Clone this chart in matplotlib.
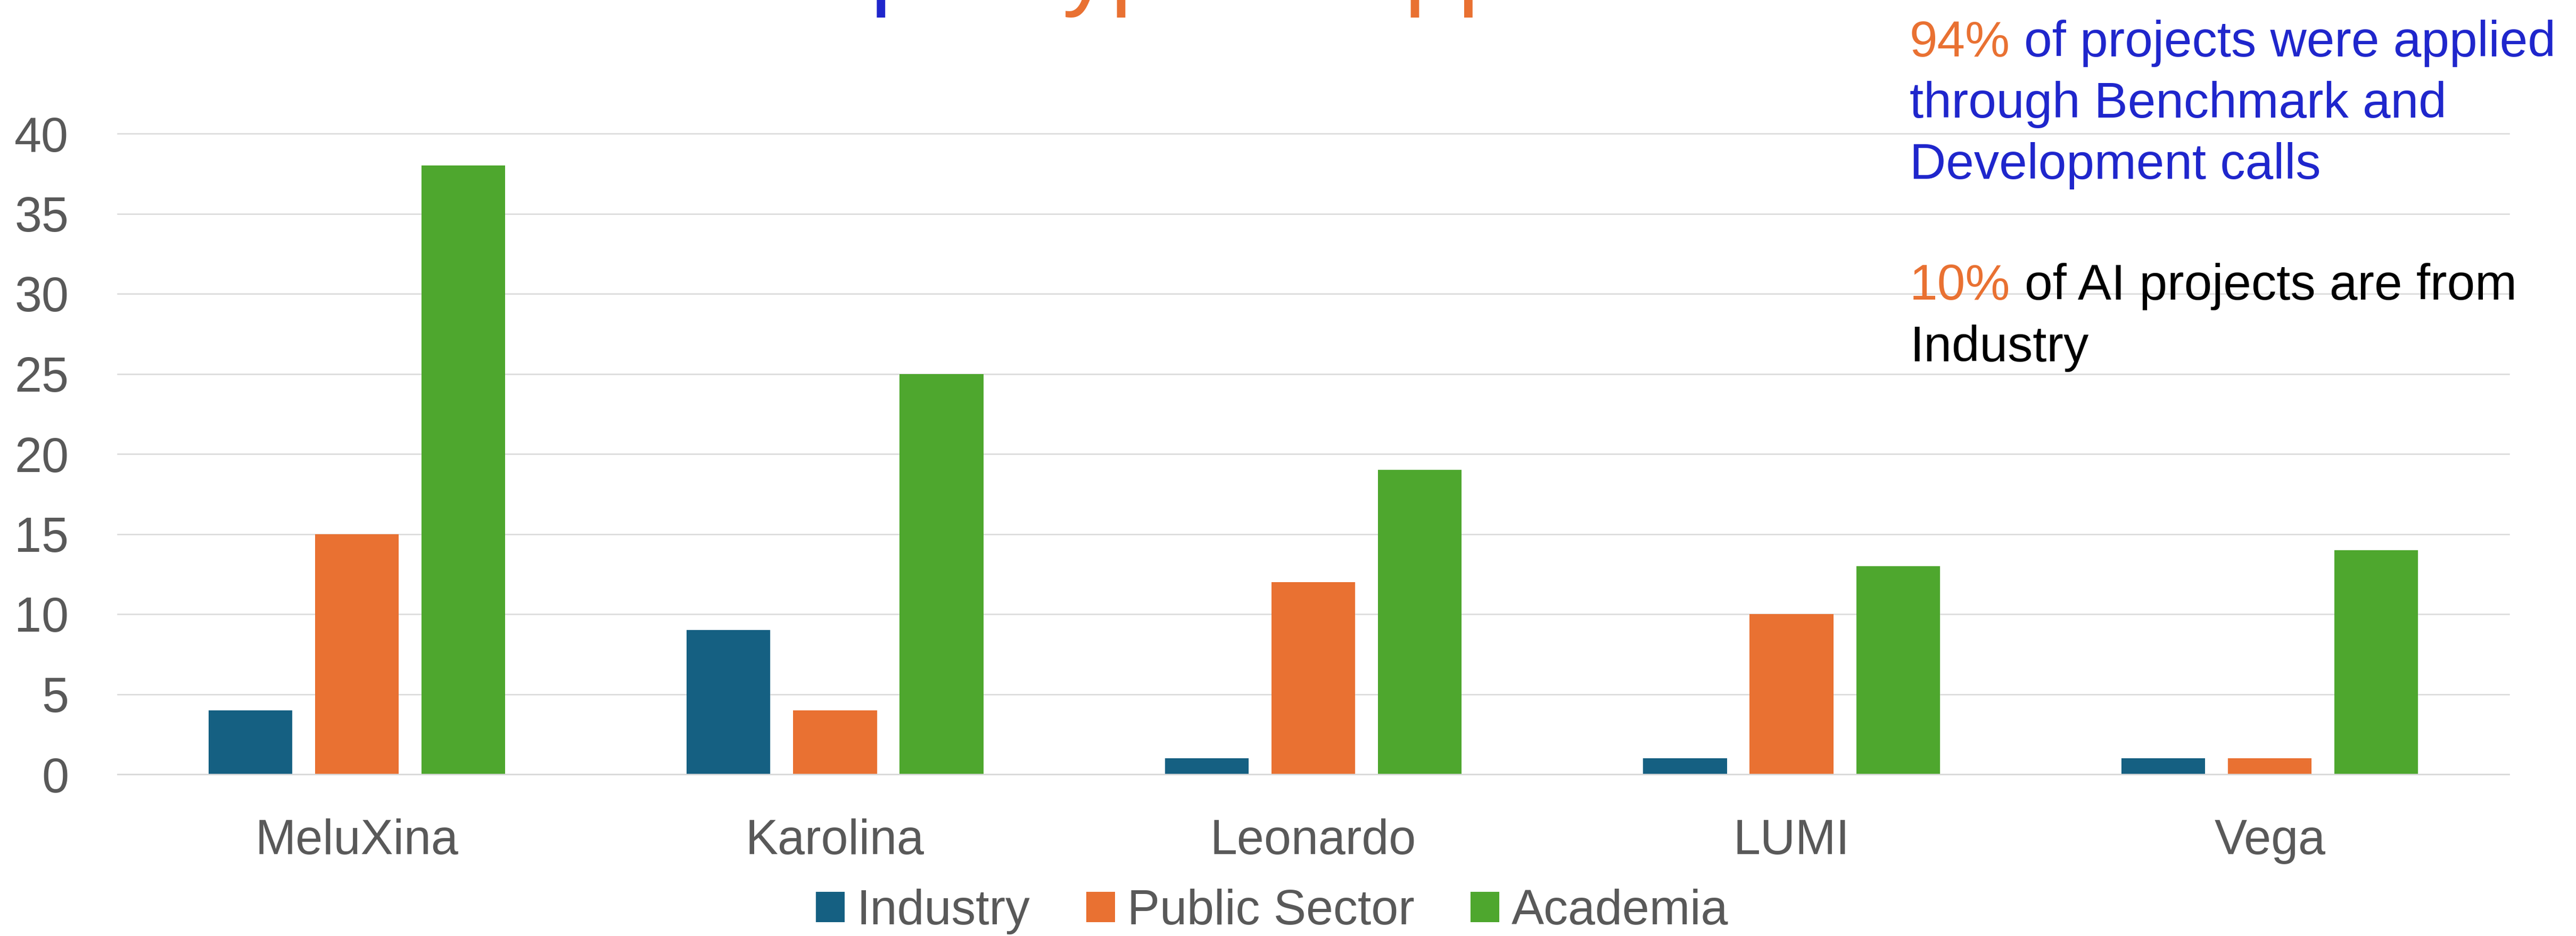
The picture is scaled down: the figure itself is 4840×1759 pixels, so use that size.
import matplotlib
matplotlib.use("Agg")
import matplotlib.pyplot as plt
import numpy as np

plt.rcParams["font.family"] = ["Liberation Sans", "DejaVu Sans"]

# ---- data ----
systems = ["MeluXina", "Karolina", "Leonardo", "LUMI", "Vega"]
series_names = ["Industry", "Public Sector", "Academia"]
industry = [4, 9, 1, 1, 1]
public_sector = [15, 4, 12, 10, 1]
academia = [38, 25, 19, 13, 14]
y_ticks = [0, 5, 10, 15, 20, 25, 30, 35, 40]

COLORS = ["#156082", "#E97132", "#4EA72E"]
BLUE_TXT = "#1F26CC"
ORANGE_TXT = "#E97132"
GREY_TXT = "#595959"
GRID = "#D9D9D9"

W, H, DPI = 4840, 1759, 100
fig = plt.figure(figsize=(W / DPI, H / DPI), dpi=DPI)

# plot area (pixel edges)
ax = fig.add_axes([221 / W, 1 - 1455 / H, (4714 - 221) / W, (1455 - 251) / H])

x = np.arange(len(systems))
bar_w = 0.175
step = 0.2226
for i, (vals, name, col) in enumerate(zip([industry, public_sector, academia], series_names, COLORS)):
    ax.bar(x + (i - 1) * step, vals, width=bar_w, color=col, label=name, zorder=2)

ax.set_xlim(-0.5, len(systems) - 0.5)
ax.set_ylim(0, 40)
ax.set_yticks(y_ticks)
ax.yaxis.grid(True, color=GRID, linewidth=1.8)
ax.set_axisbelow(True)
for gl in ax.get_ygridlines():
    gl.set_clip_on(False)
for s in ["top", "right", "left"]:
    ax.spines[s].set_visible(False)
ax.spines["bottom"].set_color(GRID)
ax.spines["bottom"].set_linewidth(1.8)
ax.set_xticks(x, systems)
ax.tick_params(axis="both", length=0, labelsize=66, labelcolor=GREY_TXT)
ax.tick_params(axis="y", pad=66)
ax.tick_params(axis="x", pad=60)

# legend below the plot
handles, labels = ax.get_legend_handles_labels()
fig.legend(handles, labels, loc="center", bbox_to_anchor=(2390 / W, 1 - 1713 / H),
           ncol=3, frameon=False, fontsize=66, labelcolor=GREY_TXT,
           handlelength=0.59, handleheight=0.59, handletextpad=0.25,
           columnspacing=1.15, borderpad=0)


def rich_line(x0, y0, parts, size):
    """Draw coloured pieces of one text line next to each other."""
    space = 0.278 * size * DPI / 72
    t = fig.text(x0 / W, 1 - y0 / H, parts[0][0], color=parts[0][1],
                 fontsize=size, ha="left", va="baseline")
    for text, color in parts[1:]:
        t = ax.annotate(text, xy=(1, 0), xycoords=t, xytext=(space, 0),
                        textcoords="offset pixels", color=color, fontsize=size,
                        ha="left", va="bottom", annotation_clip=False)


# side note (text box top right)
note_size = 68
rich_line(3588, 106, [("94%", ORANGE_TXT), ("of projects were applied", BLUE_TXT)], note_size)
rich_line(3588, 221, [("through Benchmark and", BLUE_TXT)], note_size)
rich_line(3588, 336, [("Development calls", BLUE_TXT)], note_size)
rich_line(3588, 563, [("10%", ORANGE_TXT), ("of AI projects are from", "black")], note_size)
rich_line(3588, 679, [("Industry", "black")], note_size)

# title, cut off by the top edge in the reference
title_y = 1 + 5 / H
fig.text((1946 - 50) / W, title_y, "Distribution per", color=BLUE_TXT,
         fontsize=130, ha="right", va="baseline")
fig.text(1946 / W, title_y, "type of applicant", color=ORANGE_TXT,
         fontsize=130, ha="left", va="baseline")

fig.savefig("out.png", dpi=DPI)
